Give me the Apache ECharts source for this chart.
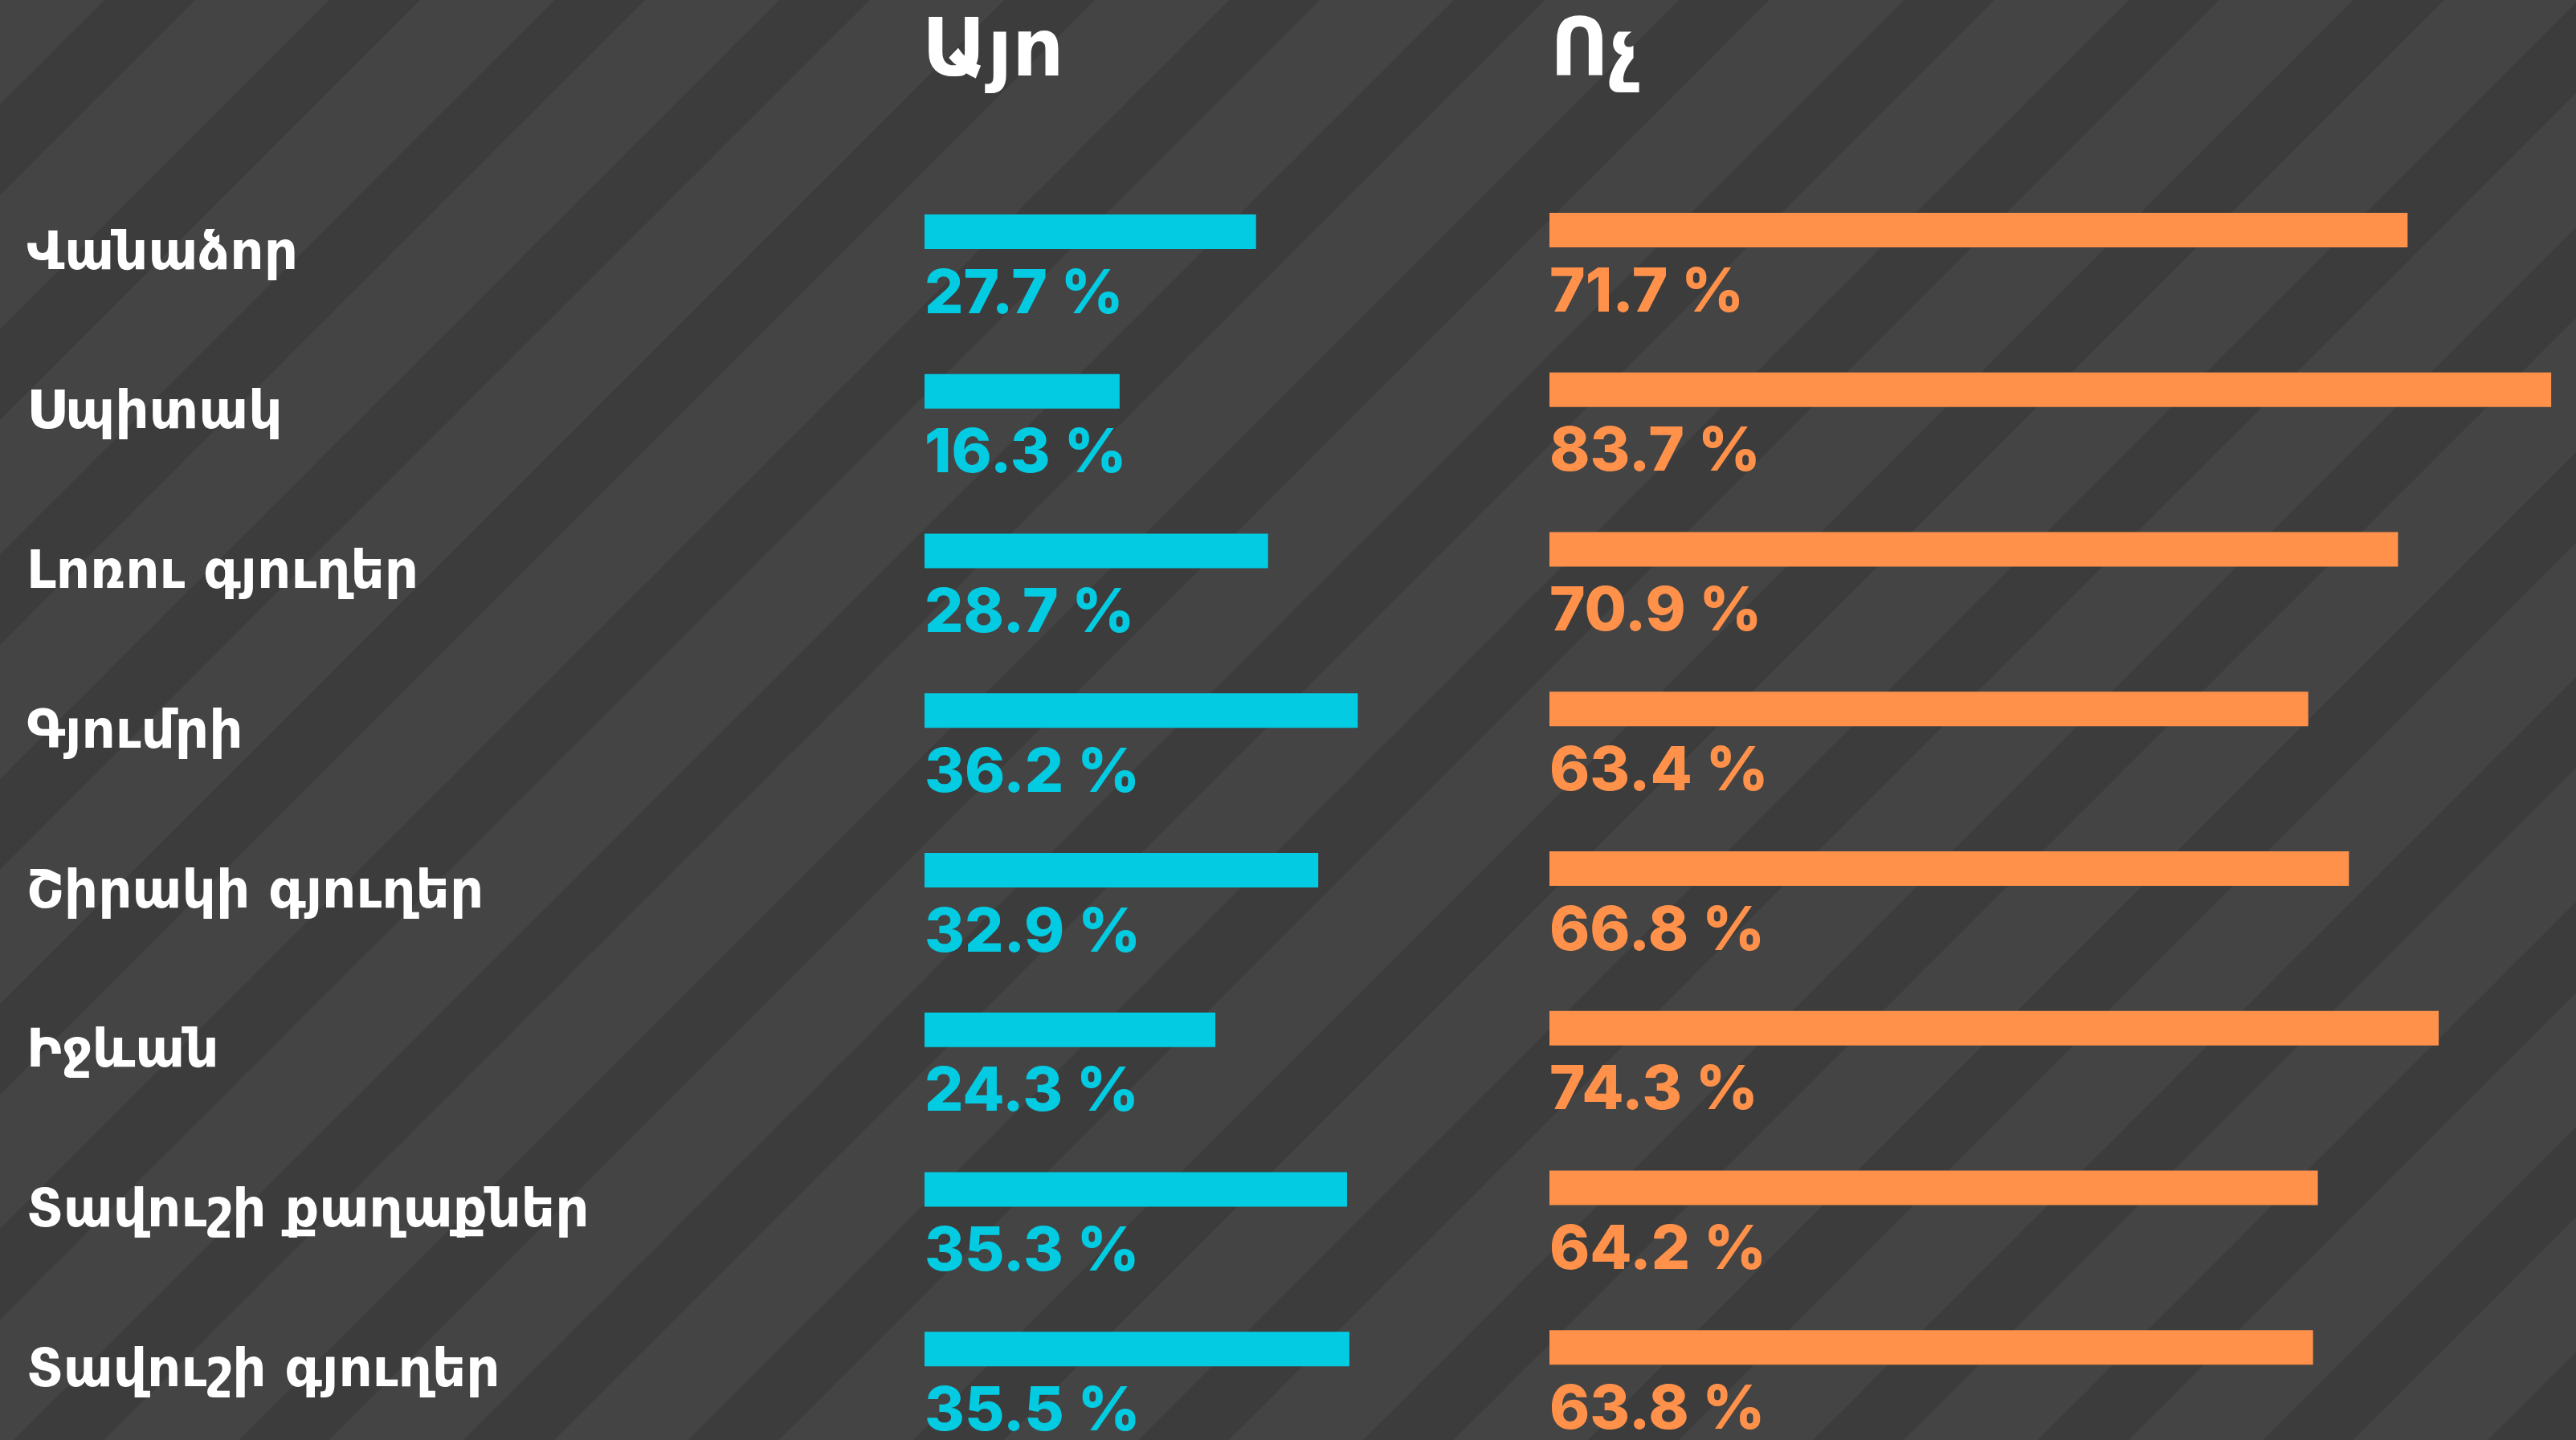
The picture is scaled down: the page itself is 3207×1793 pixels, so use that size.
<!DOCTYPE html>
<html>
<head>
<meta charset="utf-8">
<script src="https://cdn.jsdelivr.net/npm/echarts@6/dist/echarts.min.js"></script>
<style>
  html, body { margin: 0; padding: 0; background: #3c3c3c; }
  #main { width: 3207px; height: 1793px; }
</style>
</head>
<body>
<div id="main"></div>
<script>
var categories = ['Վանաձոր', 'Սպիտակ', 'Լոռու գյուղեր', 'Գյումրի', 'Շիրակի գյուղեր', 'Իջևան', 'Տավուշի քաղաքներ', 'Տավուշի գյուղեր'];
var yesValues = [27.7, 16.3, 28.7, 36.2, 32.9, 24.3, 35.3, 35.5];
var noValues = [71.7, 83.7, 70.9, 63.4, 66.8, 74.3, 64.2, 63.8];
var headers = ['Այո', 'Ոչ'];

var blue = '#03cbe2';
var orange = '#ff914b';
var armFont = '"DejaVu Sans", sans-serif';
var numFont = 'Inter, "Open Sans", sans-serif';

// striped background tile (45 degree stripes)
function makeStripes() {
	var p = 280;
	var c = document.createElement('canvas');
	c.width = p; c.height = p;
	var ctx = c.getContext('2d');
	ctx.fillStyle = '#444444';
	ctx.fillRect(0, 0, p, p);
	ctx.fillStyle = '#3c3c3c';
	[0, p].forEach(function (k) {
		var a = 130 + k, b = 243 + k;
		ctx.beginPath();
		ctx.moveTo(a, 0);
		ctx.lineTo(b, 0);
		ctx.lineTo(b - 2 * p, 2 * p);
		ctx.lineTo(a - 2 * p, 2 * p);
		ctx.closePath();
		ctx.fill();
	});
	return c;
}

var myChart = echarts.init(document.getElementById('main'));

var option = {
	backgroundColor: '#3c3c3c',
	animation: false,
	graphic: [{
		type: 'rect',
		z: -10,
		silent: true,
		shape: { x: 0, y: 0, width: 3207, height: 1793 },
		style: { fill: { image: makeStripes(), repeat: 'repeat' } }
	}],
	title: [
		{ text: headers[0], left: 1148, top: 18, padding: 0,
		  textStyle: { color: '#fff', fontFamily: armFont, fontWeight: 'bold', fontSize: 100 } },
		{ text: headers[1], left: 1930, top: 18, padding: 0,
		  textStyle: { color: '#fff', fontFamily: armFont, fontWeight: 'bold', fontSize: 100 } }
	],
	grid: [
		{ left: 1151, top: 189, width: 745, height: 1590 },
		{ left: 1929, top: 187, width: 1266.5, height: 1590 }
	],
	xAxis: [
		{ gridIndex: 0, type: 'value', min: 0, max: 50, show: false },
		{ gridIndex: 1, type: 'value', min: 0, max: 85, show: false }
	],
	yAxis: [
		{
			gridIndex: 0, type: 'category', inverse: true, data: categories,
			axisLine: { show: false }, axisTick: { show: false }, splitLine: { show: false },
			axisLabel: {
				color: '#fff', fontFamily: armFont, fontWeight: 'bold', fontSize: 66,
				align: 'left', verticalAlign: 'top', lineHeight: 58, margin: 1118
			}
		},
		{
			gridIndex: 1, type: 'category', inverse: true, data: categories, show: false
		}
	],
	series: [
		{
			name: headers[0], type: 'bar', xAxisIndex: 0, yAxisIndex: 0,
			data: yesValues, barWidth: 43,
			itemStyle: { color: blue },
			label: {
				show: true, position: [0, 100], align: 'left', verticalAlign: 'middle',
				formatter: '{c} %', color: blue, fontFamily: numFont, fontWeight: 800, fontSize: 76
			}
		},
		{
			name: headers[1], type: 'bar', xAxisIndex: 1, yAxisIndex: 1,
			data: noValues, barWidth: 43,
			itemStyle: { color: orange },
			label: {
				show: true, position: [0, 100], align: 'left', verticalAlign: 'middle',
				formatter: '{c} %', color: orange, fontFamily: numFont, fontWeight: 800, fontSize: 76
			}
		}
	]
};

myChart.setOption(option);
</script>
</body>
</html>
